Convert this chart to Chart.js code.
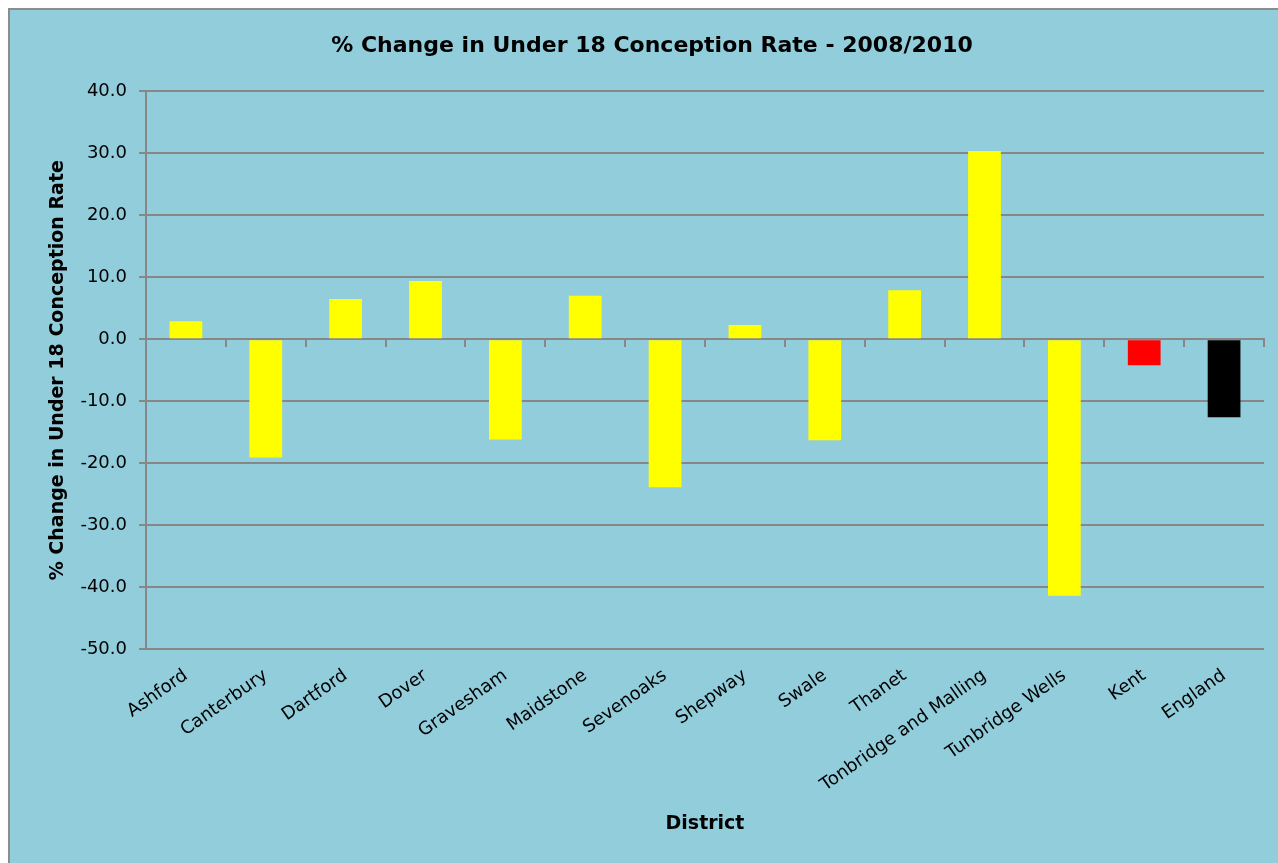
<!DOCTYPE html>
<html lang="en">
<head>
    <meta charset="UTF-8">
    <title>% Change in Under 18 Conception Rate - 2008/2010</title>
    <script src="https://cdn.jsdelivr.net/npm/chart.js"></script>
    <style>
        body { margin: 0; background: #ffffff; overflow: hidden; }
        #box {
            position: absolute; left: 8px; top: 8px;
            width: 1290px; height: 870px;
            border-left: 2px solid #8c8c8c; border-top: 2px solid #8c8c8c;
            background: #92cddc;
        }
        #wrap { position: absolute; left: 10px; top: 10px; width: 1284px; height: 853px; }
    </style>
</head>
<body>
    <div id="box"></div>
    <div id="wrap"><canvas id="grafico"></canvas></div>

    <script>
        // dados
        const districts = ['Ashford', 'Canterbury', 'Dartford', 'Dover', 'Gravesham', 'Maidstone', 'Sevenoaks',
            'Shepway', 'Swale', 'Thanet', 'Tonbridge and Malling', 'Tunbridge Wells', 'Kent', 'England'];
        const changes = [2.9, -19.1, 6.5, 9.4, -16.2, 7.0, -23.9, 2.3, -16.3, 7.9, 30.4, -41.4, -4.2, -12.6];
        const barColours = ['#ffff00', '#ffff00', '#ffff00', '#ffff00', '#ffff00', '#ffff00', '#ffff00',
            '#ffff00', '#ffff00', '#ffff00', '#ffff00', '#ffff00', '#ff0000', '#000000'];
        const yMin = -50, yMax = 40, yStep = 10;

        const grey = '#878787';
        const fonte = 'DejaVu Sans';

        new Chart(document.getElementById('grafico'), {
            type: 'bar',
            data: {
                labels: districts,
                datasets: [{
                    data: changes,
                    backgroundColor: barColours,
                    borderWidth: 0,
                    categoryPercentage: 1,
                    barPercentage: 0.41
                }]
            },
            options: {
                responsive: true,
                maintainAspectRatio: false,
                animation: false,
                layout: { padding: 0 },
                plugins: {
                    legend: { display: false },
                    tooltip: { enabled: false },
                    title: {
                        display: true,
                        text: '% Change in Under 18 Conception Rate - 2008/2010',
                        color: '#000',
                        font: { family: fonte, size: 22, weight: 'bold' },
                        padding: { top: 23, bottom: 32 }
                    }
                },
                scales: {
                    x: {
                        grid: { display: false, drawTicks: false },
                        border: { display: false },
                        ticks: {
                            color: '#000',
                            font: { family: fonte, size: 18 },
                            minRotation: 35, maxRotation: 35,
                            autoSkip: false,
                            padding: 16
                        },
                        title: {
                            display: true,
                            text: 'District',
                            color: '#000',
                            font: { family: fonte, size: 19, weight: 'bold' },
                            padding: { top: 0, bottom: 28 }
                        },
                        afterFit: s => { s.height = 214; }
                    },
                    // linha do zero com as marcas entre categorias
                    x2: {
                        type: 'category',
                        position: { y: 0 },
                        grid: { drawOnChartArea: false, color: grey, lineWidth: 2, tickLength: 7 },
                        border: { color: grey, width: 2 },
                        ticks: { display: false }
                    },
                    y: {
                        min: yMin, max: yMax,
                        ticks: {
                            stepSize: yStep,
                            color: '#000',
                            font: { family: fonte, size: 18 },
                            padding: 12,
                            callback: v => v.toFixed(1)
                        },
                        grid: { color: grey, lineWidth: 2, tickLength: 7 },
                        border: { color: grey, width: 2 },
                        title: {
                            display: true,
                            text: '% Change in Under 18 Conception Rate',
                            color: '#000',
                            font: { family: fonte, size: 19, weight: 'bold' },
                            padding: { top: 37, bottom: 0 }
                        },
                        afterFit: s => { s.width = 136; }
                    },
                    // eixo vazio à direita, só para reservar a margem
                    yRight: {
                        position: 'right',
                        min: yMin, max: yMax,
                        grid: { display: false },
                        border: { display: false },
                        ticks: { display: false },
                        afterFit: s => { s.width = 30; }
                    }
                }
            }
        });
    </script>
</body>
</html>
